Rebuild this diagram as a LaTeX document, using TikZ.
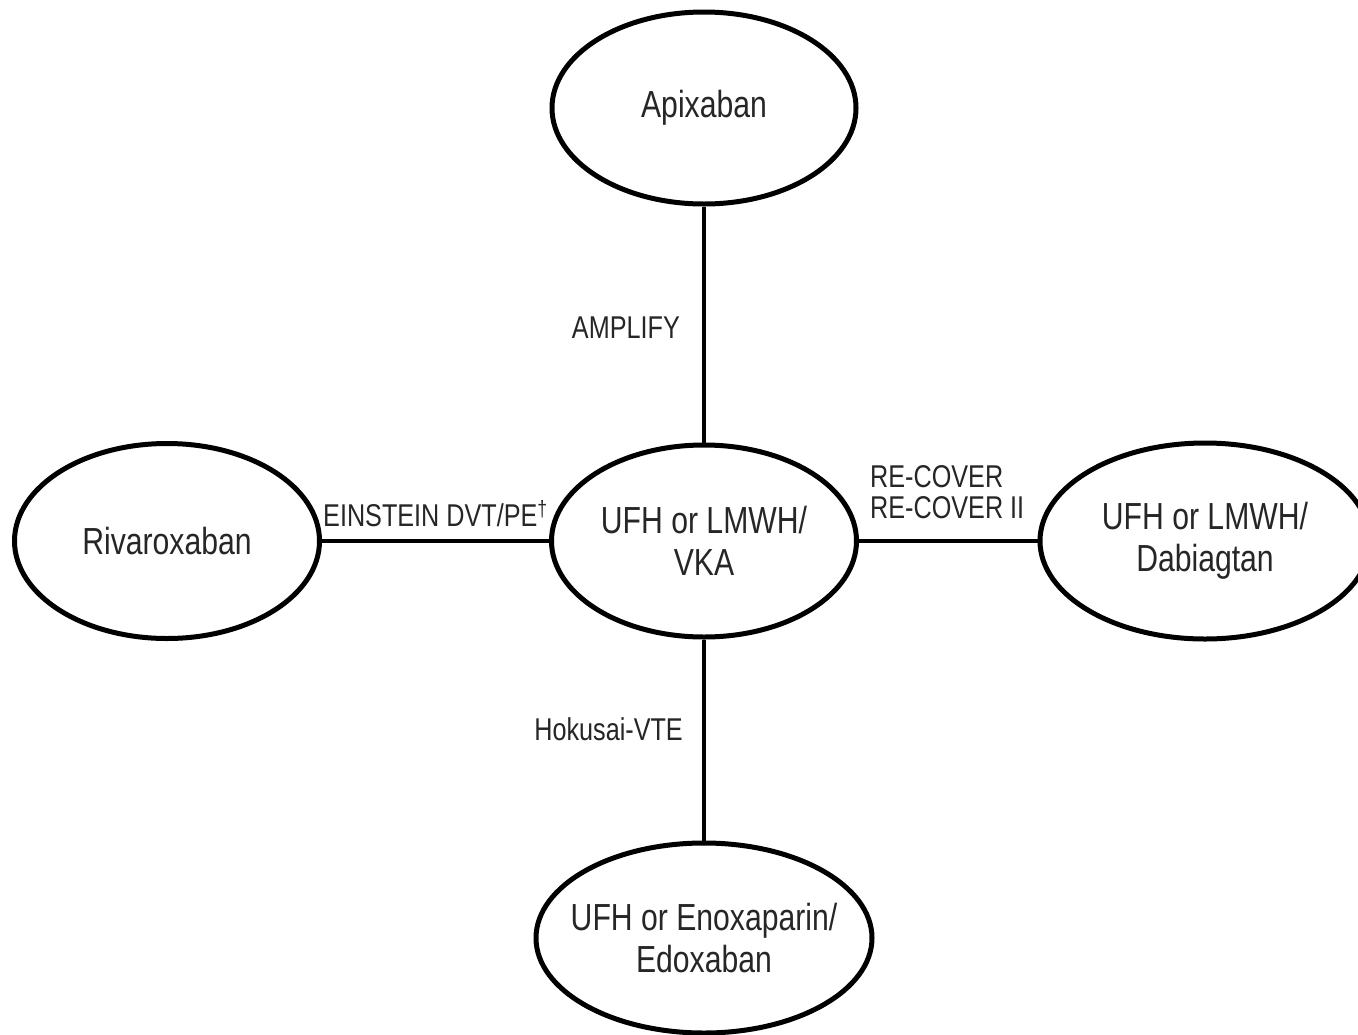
\documentclass[tikz,border=0pt]{standalone}
\usepackage{fontspec}
\setmainfont{Liberation Sans}[FakeStretch=0.8]
\usetikzlibrary{shapes.geometric}
\begin{document}
\begin{tikzpicture}[x=1pt,y=-1pt,
  oval/.style={ellipse,draw=black,line width=5pt,fill=white,inner sep=0pt,align=center,
    text=black!85,font=\fontsize{37.7}{42}\selectfont},
  link/.style={draw=black,line width=4pt},
  lbl/.style={inner sep=0pt,text=black!85,font=\fontsize{31.5}{31}\selectfont,align=left}]
\clip (0,0) rectangle (1358,1034);
\fill[white] (0,0) rectangle (1358,1034);
\node[oval,minimum width=304pt,minimum height=192pt] (apix) at (704,108) {Apixaban};
\node[oval,minimum width=305pt,minimum height=192pt] (cent) at (704,541) {UFH or LMWH/\\VKA};
\node[oval,minimum width=305pt,minimum height=195pt] (riva) at (167,541) {Rivaroxaban};
\node[oval,minimum width=330pt,minimum height=196pt] (dabi) at (1205,541) {UFH or LMWH/\\Dabiagtan};
\node[oval,inner xsep=-25pt,minimum width=336pt,minimum height=190pt] (edox) at (704,938) {UFH or Enoxaparin/\\Edoxaban};
\draw[link] (apix) -- (cent);
\draw[link] (riva) -- (cent);
\draw[link] (cent) -- (dabi);
\draw[link] (cent) -- (edox);
\node[lbl,anchor=base east] (amp) at (680,338) {AMPLIFY};
\node[lbl,anchor=base west] (ein) at (323,526) {EINSTEIN DVT/PE\textsuperscript{†}};
\node[lbl,anchor=base west] (rec) at (870,487) {RE-COVER};
\node[lbl,anchor=base west] (rec2) at (870,518) {RE-COVER II};
\node[lbl,anchor=base east] (hok) at (683,740) {Hokusai-VTE};
\end{tikzpicture}
\end{document}
